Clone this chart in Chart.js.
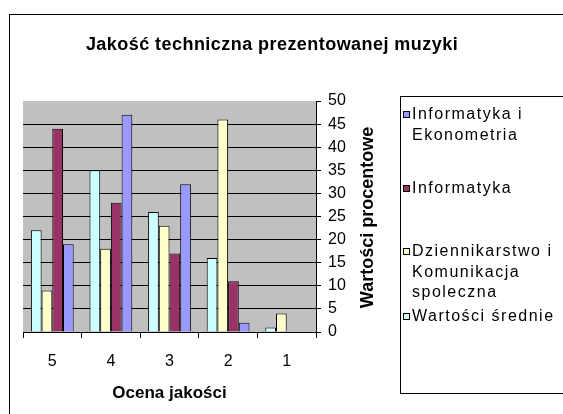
<!DOCTYPE html>
<html>
<head>
<meta charset="utf-8">
<script src="https://cdn.jsdelivr.net/npm/chart.js@4.4.1/dist/chart.umd.min.js"></script>
<style>
    body { margin: 0; background: #fff; }
    #wrap { position: relative; width: 563px; height: 414px; overflow: hidden; background: #fff; font-family: "Liberation Sans", Arial, sans-serif; }
    #frame { position: absolute; left: 9px; top: 14px; width: 600px; height: 450px; border: 1px solid #000; }
    #title { position: absolute; left: 0; top: 33px; width: 544px; text-align: center; font-weight: bold; font-size: 18px; line-height: 22px; letter-spacing: 0.45px; color: #000; }
    #chartBox { position: absolute; left: 0; top: 0; width: 563px; height: 414px; }
</style>
</head>
<body>
<div id="wrap">
    <div id="frame"></div>
    <div id="chartBox"><canvas id="qualityChart" width="563" height="414"></canvas></div>
    <div id="title">Jakość techniczna prezentowanej muzyki</div>
</div>
<script>
// oceny (oś X)
const categories = ['5', '4', '3', '2', '1'];

// wartości procentowe dla każdej grupy
const informatykaEkonometria = [19, 47, 32, 2, 0];
const informatyka = [44, 28, 17, 11, 0];
const dziennikarstwo = [9, 18, 23, 46, 4];
const wartosciSrednie = [22, 35, 26, 16, 1];

const seriesNames = ['Informatyka i Ekonometria', 'Informatyka', 'Dziennikarstwo i Komunikacja spoleczna', 'Wartości średnie'];
const seriesData = [informatykaEkonometria, informatyka, dziennikarstwo, wartosciSrednie];
const seriesColors = ['#9999FF', '#993366', '#FFFFCC', '#CCFFFF'];

const yTicks = [0, 5, 10, 15, 20, 25, 30, 35, 40, 45, 50];

const FONT = '"Liberation Sans", Arial, sans-serif';

// pierwsze linie wpisów legendy (środek w pionie)
const legendLineY = [114, 188, 251, 316];

function wrapWords(ctx, text, maxW) {
    const words = text.split(' ');
    const lines = [];
    let cur = '';
    words.forEach(w => {
        const test = cur ? cur + ' ' + w : w;
        if (cur && ctx.measureText(test).width > maxW) {
            lines.push(cur);
            cur = w;
        } else {
            cur = test;
        }
    });
    if (cur) lines.push(cur);
    return lines;
}

// tło obszaru wykresu, tytuł osi Y (od dołu) i legenda w ramce
const extras = {
    id: 'extras',
    beforeDraw(chart) {
        const { ctx, chartArea: a } = chart;
        ctx.save();
        ctx.fillStyle = '#C0C0C0';
        ctx.fillRect(a.left, a.top, a.right - a.left, a.bottom - a.top);
        ctx.restore();
    },
    afterDraw(chart) {
        const { ctx, chartArea: a } = chart;
        ctx.save();
        ctx.translate(368, (a.top + a.bottom) / 2 + 1);
        ctx.rotate(-Math.PI / 2);
        ctx.font = 'bold 18px ' + FONT;
        ctx.fillStyle = '#000';
        ctx.textAlign = 'center';
        ctx.textBaseline = 'middle';
        ctx.fillText('Wartości procentowe', 0, 0);
        ctx.restore();

        // legenda
        ctx.save();
        ctx.fillStyle = '#fff';
        ctx.fillRect(400, 96, 200, 298);
        ctx.strokeStyle = '#000';
        ctx.lineWidth = 1;
        ctx.strokeRect(400.5, 96.5, 200, 297);
        ctx.font = '16px ' + FONT;
        if ('letterSpacing' in ctx) ctx.letterSpacing = '1.5px';
        ctx.textAlign = 'left';
        ctx.textBaseline = 'middle';
        seriesNames.forEach((name, i) => {
            const cy = legendLineY[i];
            ctx.fillStyle = seriesColors[i];
            ctx.fillRect(403, cy - 3, 7, 7);
            ctx.strokeStyle = '#000';
            ctx.strokeRect(403.5, cy - 2.5, 6, 6);
            ctx.fillStyle = '#000';
            wrapWords(ctx, name, 150).forEach((line, j) => {
                ctx.fillText(line, 412, cy + j * 20.5 + 1);
            });
        });
        ctx.restore();
    }
};

// słupki od lewej: średnie, dziennikarstwo, informatyka, inf. i ekonometria
const order = [3, 2, 1, 0];
const datasets = order.map(i => ({
    label: seriesNames[i],
    data: seriesData[i],
    backgroundColor: seriesColors[i],
    borderColor: '#000',
    borderWidth: 1,
    categoryPercentage: 0.73,
    barPercentage: 1.0
}));

new Chart(document.getElementById('qualityChart'), {
    type: 'bar',
    data: { labels: categories, datasets },
    options: {
        responsive: false,
        animation: false,
        layout: { padding: { left: 23, top: 101, right: 187, bottom: 0 } },
        plugins: {
            legend: { display: false },
            title: { display: false },
            tooltip: { enabled: false }
        },
        scales: {
            x: {
                grid: { offset: true, drawOnChartArea: false, drawTicks: true, tickLength: 6, color: '#000' },
                border: { display: true, color: '#000' },
                ticks: { color: '#000', font: { family: FONT, size: 16 }, padding: 14 },
                title: { display: true, text: 'Ocena jakości', color: '#000', font: { family: FONT, size: 17, weight: 'bold' }, padding: { top: 0, bottom: 10 } },
                afterFit(scale) { scale.height = 82; }
            },
            y: {
                position: 'right',
                min: 0,
                max: 50,
                afterBuildTicks(scale) { scale.ticks = yTicks.map(v => ({ value: v })); },
                grid: {
                    color: ctx => (ctx.tick && ctx.tick.value === 50 ? 'rgba(0,0,0,0)' : '#000'),
                    tickColor: '#000',
                    tickLength: 5
                },
                border: { display: true, color: '#000' },
                ticks: { color: '#000', font: { family: FONT, size: 16 }, padding: 7 },
                afterFit(scale) { scale.width = 60; }
            }
        }
    },
    plugins: [extras]
});
</script>
</body>
</html>
